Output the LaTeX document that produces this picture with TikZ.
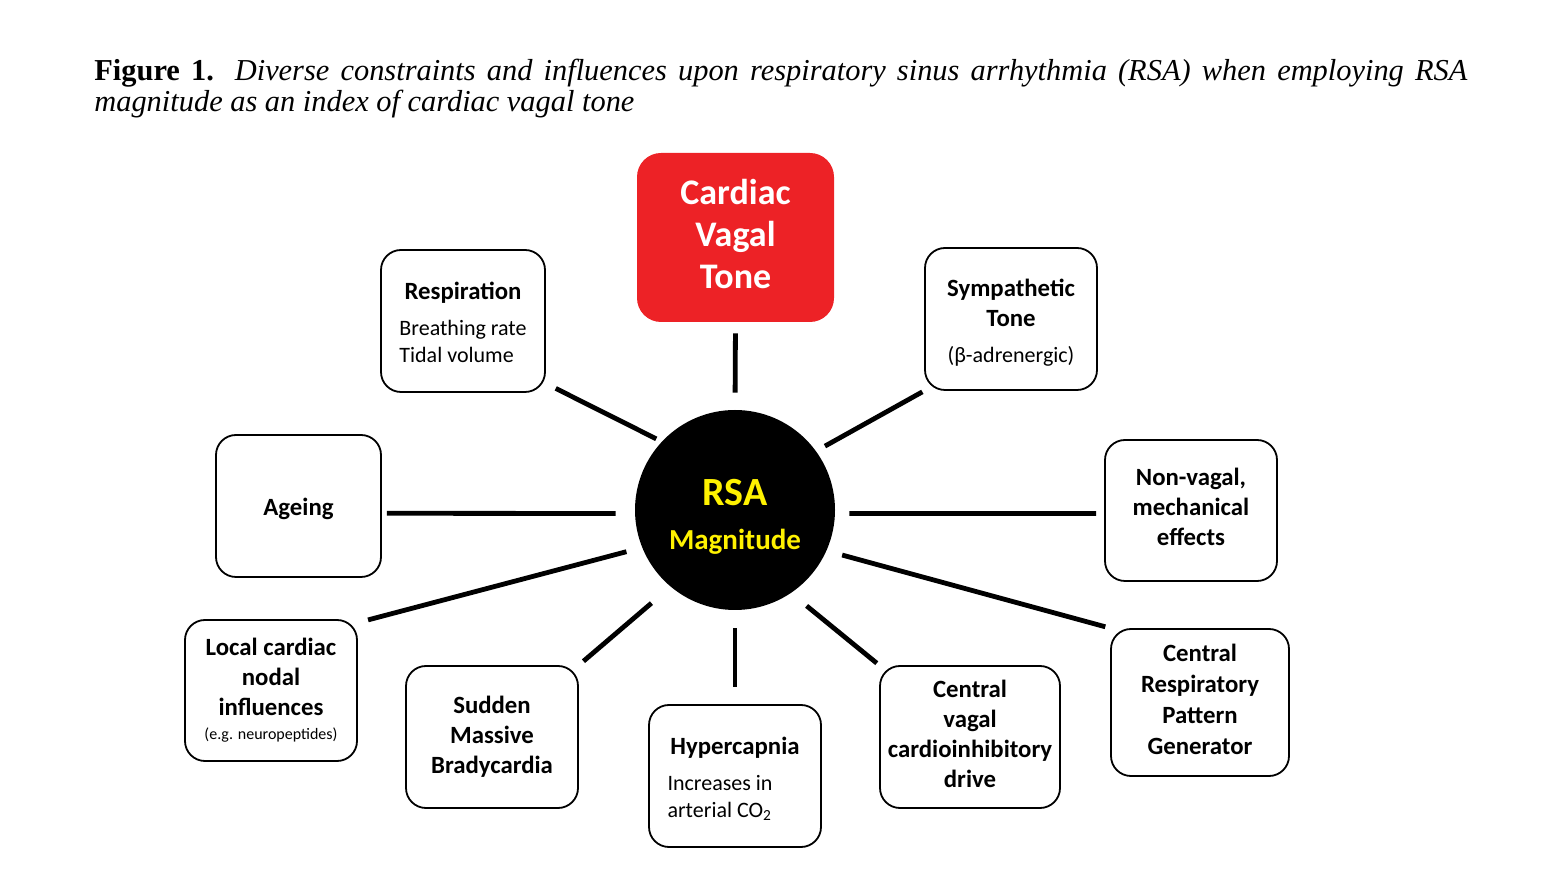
\documentclass[tikz,border=0pt]{standalone}
\usepackage{fontspec}
\setmainfont{Carlito}
\newfontfamily\capfont{Liberation Serif}
\usetikzlibrary{positioning}
\definecolor{vagalred}{HTML}{ED2226}
\definecolor{rsayellow}{HTML}{FFF200}

\begin{document}
\begin{tikzpicture}[x=0.5pt, y=-0.5pt]
        \tikzstyle{factor} = [rectangle, draw, line width=0.9pt, rounded corners=10pt, inner sep=0pt, minimum width=86pt, minimum height=71pt, align=center, font=\bfseries\fontsize{12.4}{15}\selectfont]
        \tikzstyle{tone} = [rectangle, fill=vagalred, rounded corners=12pt, inner sep=0pt, minimum width=98.5pt, minimum height=84.5pt, align=center, text=white, font=\bfseries\fontsize{18}{21}\selectfont]
        \tikzstyle{hub} = [circle, fill=black, inner sep=0pt, minimum size=100pt, align=center, text=rsayellow, font=\bfseries]
        \tikzstyle{spoke} = [line width=2.4pt]
        \newcommand{\sublines}[2][0pt]{{\mdseries\fontsize{11}{13.5}\selectfont\begin{tabular}{@{}l@{\hspace{#1}}}#2\end{tabular}}}
        \newcommand{\up}[1]{\rule[-#1]{0pt}{#1}}
        \newcommand{\down}[1]{\rule{0pt}{#1}}
        \useasboundingbox (0,0) rectangle (1548,870);

        \node [anchor=north west, inner sep=0pt, text width=686.5pt, align=justify, font=\capfont\fontsize{15.2}{15.5}\selectfont] (caption) at (94,59)
            {\textbf{Figure 1.} \textit{Diverse constraints and influences upon respiratory sinus arrhythmia (RSA) when employing RSA\linebreak magnitude as an index of cardiac vagal tone}};

        \node [hub] (rsa) at (735,510) {\down{20pt}{\fontsize{20}{23}\selectfont RSA}\\[10pt]{\fontsize{14.5}{17}\selectfont Magnitude}};
        \node [tone] (cvt) at (735.5,237.5) {Cardiac\\Vagal\\Tone\up{4pt}};

        \node [factor, minimum width=82pt] (resp) at (463,321) {\down{14pt}Respiration\\[5.5pt]\sublines{Breathing rate\\Tidal volume}};
        \node [factor] (symp) at (1011,319) {\down{12pt}Sympathetic\\Tone\\[3pt]{\mdseries\fontsize{11}{13.5}\selectfont (β-adrenergic)}};
        \node [factor, minimum width=82.5pt] (ageing) at (298.5,506) {\down{11.7pt}Ageing};
        \node [factor, minimum height=70.5pt] (nonvagal) at (1191,510.5) {Non-vagal,\\mechanical\\effects\up{4pt}};
        \node [factor, minimum height=70.5pt] (local) at (271,690.5) {Local cardiac\\nodal\\influences\\[-3pt]{\mdseries\fontsize{8}{10}\selectfont (e.g. neuropeptides)}};
        \node [factor] (sudden) at (492,737) {Sudden\\Massive\\Bradycardia};
        \node [factor] (hyper) at (735,776) {\down{14pt}Hypercapnia\\[5.5pt]\sublines[15pt]{Increases in\\arterial CO\textsubscript{2}}};
        \node [factor, minimum width=90pt] (cv) at (970,737) {Central\\vagal\\cardioinhibitory\\drive\up{3.5pt}};
        \node [factor, minimum width=89pt, minimum height=73.5pt, font=\bfseries\fontsize{12.4}{15.5}\selectfont] (crpg) at (1200,702.5) {Central\\Respiratory\\Pattern\\Generator\up{3pt}};

        % spokes round the hub
        \draw [spoke, shorten <=5.5pt, shorten >=8.5pt] (cvt.south) -- (rsa.north);
        \draw [spoke, shorten <=3pt, shorten >=5.5pt] (rsa.137) -- (resp.-37);
        \draw [spoke, shorten <=5pt, shorten >=1pt] (rsa.36) -- (symp.south west);
        \draw [spoke, shorten <=9.5pt, shorten >=2.5pt] (rsa.182) -- (ageing.-5);
        \draw [spoke, shorten <=7pt, shorten >=4pt] (rsa.-2) -- (nonvagal.182);
        \draw [spoke, shorten <=8pt, shorten >=5.25pt] (rsa.202) -- (local.38);
        \draw [spoke, shorten <=12.5pt, shorten >=3pt] (rsa.230) -- (sudden.north east);
        \draw [spoke, shorten <=9pt, shorten >=8.5pt] (rsa.south) -- (hyper.north);
        \draw [spoke, shorten <=10pt, shorten >=1.5pt] (rsa.-56) -- (cv.north west);
        \draw [spoke, shorten <=8pt, shorten >=2.5pt] (rsa.-24) -- (crpg.north west);
    \end{tikzpicture}
\end{document}
